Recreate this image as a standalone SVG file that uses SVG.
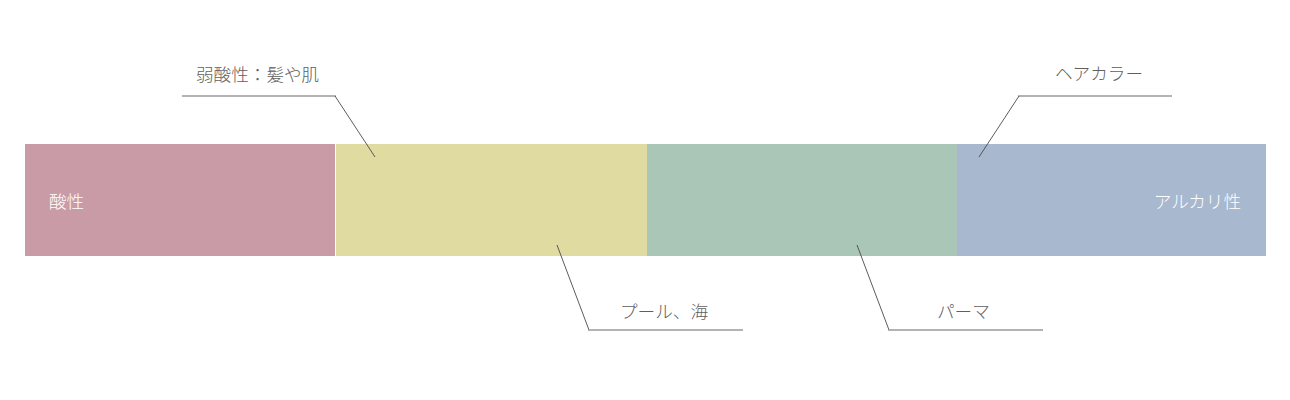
<svg xmlns="http://www.w3.org/2000/svg" width="1290" height="400" viewBox="0 0 1290 400">
<style>
.lbl{font-family:"Noto Sans CJK JP","Noto Sans",sans-serif;font-size:17.6px;font-weight:300;fill:#606060;}
.in{font-family:"Noto Sans CJK JP","Noto Sans",sans-serif;font-size:17.6px;font-weight:300;fill:#ffffff;}
.h{stroke:#9a9a9a;stroke-width:1.4;fill:none;}
.d{stroke:#4a4a4a;stroke-width:0.9;fill:none;}
</style>
<rect width="1290" height="400" fill="#ffffff"/>
<g id="acid"><rect x="25" y="144" width="310" height="112" fill="#c89ba7"/><text class="in" x="49" y="208">酸性</text></g>
<g id="weak-acid"><rect x="336" y="144" width="311" height="112" fill="#e0dba1"/></g>
<g id="neutral"><rect x="647" y="144" width="310" height="112" fill="#a9c6b7"/></g>
<g id="alkaline"><rect x="957" y="144" width="309" height="112" fill="#a8b8cf"/><text class="in" x="1241" y="208" text-anchor="end">アルカリ性</text></g>
<g id="connectors">
<polyline class="h" points="182,96 336,96"/>
<line class="d" x1="335" y1="96" x2="375" y2="157"/>
<polyline class="h" points="1018,96 1172,96"/>
<line class="d" x1="1019" y1="96" x2="979" y2="157"/>
<line class="d" x1="557" y1="245" x2="589" y2="330"/>
<polyline class="h" points="588,330 743,330"/>
<line class="d" x1="857" y1="245" x2="889" y2="330"/>
<polyline class="h" points="888,330 1043,330"/>
</g>
<g id="label-weak-acid"><text class="lbl" x="196" y="81">弱酸性：髪や肌</text></g>
<g id="label-haircolor"><text class="lbl" x="1055" y="80">ヘアカラー</text></g>
<g id="label-pool"><text class="lbl" x="620" y="318">プール、海</text></g>
<g id="label-perm"><text class="lbl" x="937" y="318">パーマ</text></g>
</svg>
